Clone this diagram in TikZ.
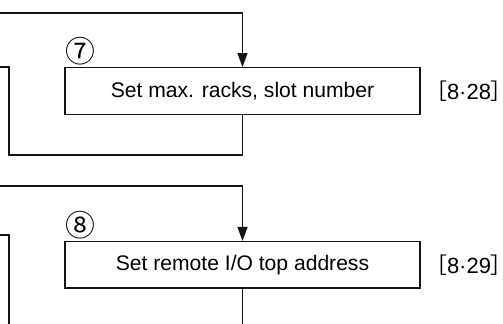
\documentclass[tikz,border=0pt]{standalone}
\usepackage{fontspec}
\setmainfont{Liberation Sans}
\newfontfamily\cjk{Noto Sans CJK JP}
\newfontfamily\cjkhalf[RawFeature=+halt]{Noto Sans CJK JP}
\usetikzlibrary{arrows.meta, positioning}
\definecolor{lineblack}{RGB}{20,20,20}
\newcommand{\pageno}[1]{{\cjkhalf［}#1{\cjkhalf］}}
\tikzset{
  stepbox/.style={rectangle, draw=lineblack, line width=0.8pt, minimum width=7.1cm,
    minimum height=0.93cm, inner sep=0pt, font=\fontsize{12}{14}\selectfont},
  stepnum/.style={inner sep=0pt, font=\cjk\fontsize{17}{18}\selectfont},
  pageref/.style={inner sep=0pt, font=\fontsize{12.5}{15}\selectfont},
  flow/.style={line width=0.8pt, color=lineblack},
  arrow/.style={flow, -{Triangle[length=0.28cm, width=0.2cm]}},
}

\begin{document}
\begin{tikzpicture}
  \useasboundingbox (0,0) rectangle (10.06,6.48);
  % step 7
  \node[stepbox] (racks) at (4.85,4.66) {Set max. racks, slot number};
  \node[stepnum, above right=0.04cm and 0.02cm of racks.north west] (num7) {⑦};
  \node[pageref, right=0.3cm of racks] (ref7) {\pageno{8·28}};
  \coordinate (in7) at (0,6.22);
  \coordinate (back7) at (0.18,5.14);
  \coordinate (out7) at (0,5.14);
  \draw[arrow] (in7) -| (racks.north);
  \draw[flow] (racks.south) -- ++(0,-0.8) -| (back7) -- (out7);
  % step 8
  \node[stepbox, below=2.52cm of racks] (remote) {Set remote I/O top address};
  \node[stepnum, above right=0.04cm and 0.02cm of remote.north west] (num8) {⑧};
  \node[pageref, right=0.3cm of remote] (ref8) {\pageno{8·29}};
  \coordinate (in8) at (0,2.76);
  \coordinate (back8) at (0,1.78);
  \coordinate (out8) at (0.18,0);
  \coordinate (down8) at (remote.south |- out8);
  \draw[arrow] (in8) -| (remote.north);
  \draw[flow] (back8) -| (out8);
  \draw[flow] (remote.south) -- (down8);
\end{tikzpicture}
\end{document}
